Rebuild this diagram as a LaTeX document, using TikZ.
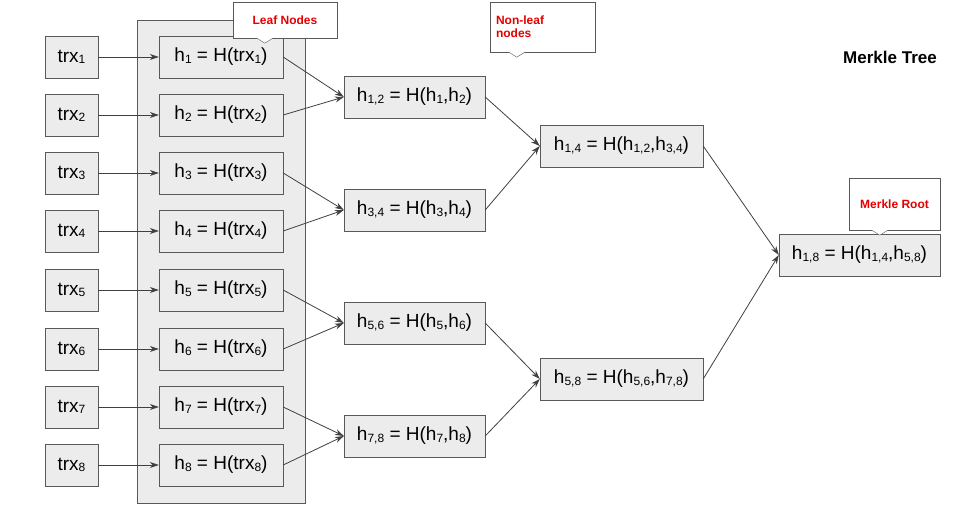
\documentclass[tikz,border=0pt]{standalone}
\usepackage{fontspec}
\setmainfont{Liberation Sans}
\usetikzlibrary{arrows.meta}
\newcommand{\subidx}[1]{{\fontsize{12}{12}\selectfont\raisebox{-0.25ex}{#1}}}
\tikzset{
  box/.style={draw=gray!70!black, fill=gray!15, minimum height=42pt, inner sep=0pt, font=\fontsize{19}{19}\selectfont},
  link/.style={-{Stealth[length=9pt,width=6pt]}, draw=gray!50!black, thick},
  note/.style={draw=gray!70!black, fill=white, text=red!90!black, font=\bfseries\fontsize{12}{13}\selectfont, align=left, inner sep=0pt}
}
\begin{document}
\begin{tikzpicture}[x=1pt,y=-1pt]
\useasboundingbox (0,0) rectangle (960,513);
% leaf group
\node (group) [draw=gray!70!black, fill=gray!15, minimum width=168pt, minimum height=483pt] at (221,261.5) {};
% transactions and leaf hashes
\foreach \i/\y in {1/57,2/115,3/173,4/231,5/290,6/349,7/407,8/465} {
  \node (trx\i) [box, minimum width=53pt] at (71.5,\y) {trx\subidx{\i}};
  \node (h\i) [box, minimum width=124pt] at (221,\y) {h\subidx{\i} = H(trx\subidx{\i})};
  \draw[link] (trx\i) -- (h\i);
}
% non-leaf nodes
\node (h12) [box, minimum width=141pt] at (414.5,97) {h\subidx{1,2} = H(h\subidx{1},h\subidx{2})};
\node (h34) [box, minimum width=141pt] at (414.5,210) {h\subidx{3,4} = H(h\subidx{3},h\subidx{4})};
\node (h56) [box, minimum width=141pt] at (414.5,323) {h\subidx{5,6} = H(h\subidx{5},h\subidx{6})};
\node (h78) [box, minimum width=141pt] at (414.5,436) {h\subidx{7,8} = H(h\subidx{7},h\subidx{8})};
\node (h14) [box, minimum width=163pt] at (621.5,146) {h\subidx{1,4} = H(h\subidx{1,2},h\subidx{3,4})};
\node (h58) [box, minimum width=163pt] at (621.5,379) {h\subidx{5,8} = H(h\subidx{5,6},h\subidx{7,8})};
\node (h18) [box, minimum width=161pt] at (859.5,255) {h\subidx{1,8} = H(h\subidx{1,4},h\subidx{5,8})};
\foreach \a/\b/\c in {h1/h2/h12,h3/h4/h34,h5/h6/h56,h7/h8/h78,h12/h34/h14,h56/h78/h58,h14/h58/h18} {
  \draw[link] (\a.east) -- (\c.west);
  \draw[link] (\b.east) -- (\c.west);
}
% callouts
\node (leafnote) [note, minimum width=104pt, minimum height=36pt] at (285,20) {Leaf Nodes};
\fill[white] ([xshift=24pt]leafnote.south west) -- ([xshift=32pt,yshift=-5pt]leafnote.south west) -- ([xshift=40pt]leafnote.south west) -- cycle;
\draw[gray!70!black] ([xshift=24pt]leafnote.south west) -- ([xshift=32pt,yshift=-5pt]leafnote.south west) -- ([xshift=40pt]leafnote.south west);
\node (nonleafnote) [note, minimum width=105pt, minimum height=50pt, text width=93pt] at (542.5,27) {Non-leaf\\nodes};
\fill[white] ([xshift=19pt]nonleafnote.south west) -- ([xshift=27pt,yshift=-5pt]nonleafnote.south west) -- ([xshift=35pt]nonleafnote.south west) -- cycle;
\draw[gray!70!black] ([xshift=19pt]nonleafnote.south west) -- ([xshift=27pt,yshift=-5pt]nonleafnote.south west) -- ([xshift=35pt]nonleafnote.south west);
\node (rootnote) [note, minimum width=91pt, minimum height=52pt] at (894.5,204) {Merkle Root};
\fill[white] ([xshift=23pt]rootnote.south west) -- ([xshift=31pt,yshift=-5pt]rootnote.south west) -- ([xshift=39pt]rootnote.south west) -- cycle;
\draw[gray!70!black] ([xshift=23pt]rootnote.south west) -- ([xshift=31pt,yshift=-5pt]rootnote.south west) -- ([xshift=39pt]rootnote.south west);
% title
\node (title) [font=\bfseries\fontsize{17}{17}\selectfont] at (890,57) {Merkle Tree};
\end{tikzpicture}
\end{document}
